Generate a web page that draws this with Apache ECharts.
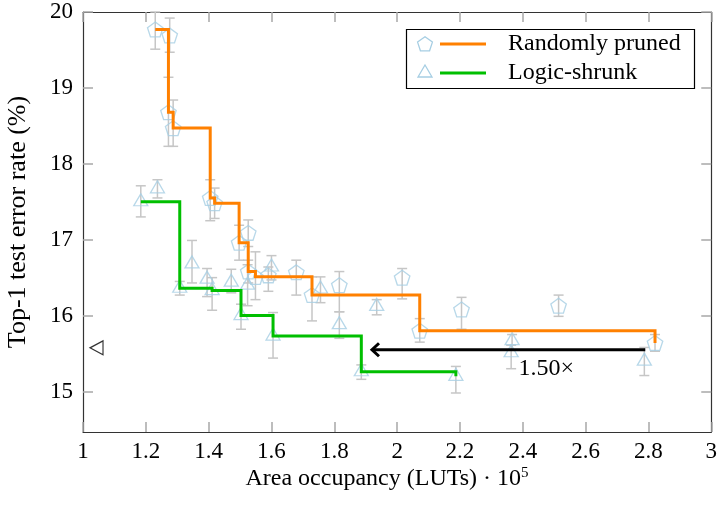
<!DOCTYPE html>
<html>
<head>
<meta charset="utf-8">
<script src="https://cdn.jsdelivr.net/npm/echarts@6/dist/echarts.min.js"></script>
<style>
  html, body { margin: 0; padding: 0; background: #fff; }
  #chart { width: 720px; height: 510px; }
</style>
</head>
<body>
<div id="chart"></div>
<script>
// Randomly pruned networks: area (x10^5 LUTs), mean top-1 error (%), error range
const prunedArea = [1.230, 1.272, 1.276, 1.287, 1.405, 1.419, 1.497, 1.526, 1.526, 1.549, 1.590, 1.679, 1.729, 1.816, 2.016, 2.072, 2.205, 2.514, 2.821];
const prunedErr  = [19.77, 18.68, 19.69, 18.47, 17.55, 17.48, 16.96, 17.09, 16.58, 16.51, 16.53, 16.57, 16.27, 16.40, 16.50, 15.80, 16.08, 16.13, 15.64];
const prunedLow  = [19.51, 18.23, 19.47, 18.23, 17.25, 17.28, 16.73, 16.91, 16.43, 16.21, 16.32, 16.27, 15.93, 16.05, 16.22, 15.65, 15.82, 15.99, 15.53];
const prunedHigh = [20.00, 19.14, 19.92, 18.84, 17.79, 17.68, 17.19, 17.26, 16.73, 16.84, 16.64, 16.73, 16.51, 16.58, 16.62, 15.96, 16.24, 16.27, 15.75];

// Logic-shrunk networks
const shrunkArea = [1.184, 1.237, 1.308, 1.347, 1.395, 1.411, 1.472, 1.503, 1.524, 1.600, 1.605, 1.756, 1.816, 1.886, 1.935, 2.187, 2.363, 2.366, 2.787];
const shrunkErr  = [17.50, 17.67, 16.36, 16.68, 16.48, 16.33, 16.44, 16.00, 16.40, 16.64, 15.73, 16.35, 15.88, 15.26, 16.12, 15.20, 15.51, 15.67, 15.40];
const shrunkLow  = [17.30, 17.55, 16.27, 16.43, 16.25, 16.07, 16.30, 15.82, 16.13, 16.47, 15.44, 16.17, 15.70, 15.16, 16.01, 14.98, 15.30, 15.55, 15.21];
const shrunkHigh = [17.71, 17.79, 16.45, 16.99, 16.62, 16.50, 16.61, 16.15, 16.67, 16.79, 16.04, 16.51, 16.05, 15.35, 16.21, 15.33, 15.61, 15.75, 15.58];

// Reference marker on the left edge
const refPoint = [1.043, 15.575];

// Area-reduction arrow (from, to) and its label
const arrowFromX = 2.79;
const arrowToX = 1.92;
const arrowY = 15.55;
const arrowLabel = '1.50×';
const arrowLabelPos = [2.475, 15.30];

// Axis ticks
const xTicks = [1, 1.2, 1.4, 1.6, 1.8, 2, 2.2, 2.4, 2.6, 2.8, 3];
const yTicks = [15, 16, 17, 18, 19, 20];
const yMin = 14.466;
const yMax = 20;

const seriesNames = ['Randomly pruned', 'Logic-shrunk'];

const FONT = 'Liberation Serif';
const MARK = '#a6cee3';
const BAR = '#c6c6c6';
const ORANGE = '#ff8000';
const GREEN = '#00bf00';
const PENTAGON = 'path://M0,-1 L0.9511,-0.309 L0.5878,0.809 L-0.5878,0.809 L-0.9511,-0.309 Z';
const LEFT_TRI = 'path://M1,0 L0,0.5 L1,1 Z';

// running-minimum staircase: the best error reached so far at each area
function frontier(xs, ys) {
  const idx = xs.map((_, i) => i).sort((a, b) => xs[a] - xs[b]);
  const out = [];
  let best = Infinity;
  idx.forEach(i => {
    if (ys[i] < best) { best = ys[i]; out.push([xs[i], ys[i]]); }
  });
  return out;
}

function zip(xs, ys) { return xs.map((x, i) => [x, ys[i]]); }
function bars(xs, lo, hi) { return xs.map((x, i) => [x, lo[i], hi[i]]); }

// regular pentagon outline for the legend key
function pentagonPoints(cx, cy, r) {
  const pts = [];
  for (let k = 0; k < 5; k++) {
    const a = -Math.PI / 2 + k * 2 * Math.PI / 5;
    pts.push([cx + r * Math.cos(a), cy + r * Math.sin(a)]);
  }
  return pts;
}

function renderErrorBar(params, api) {
  const x = api.value(0);
  const top = api.coord([x, api.value(2)]);
  const bot = api.coord([x, api.value(1)]);
  const w = 5;
  const st = { stroke: BAR, lineWidth: 1.5 };
  return {
    type: 'group',
    children: [
      { type: 'line', shape: { x1: top[0], y1: top[1], x2: bot[0], y2: bot[1] }, style: st },
      { type: 'line', shape: { x1: top[0] - w, y1: top[1], x2: top[0] + w, y2: top[1] }, style: st },
      { type: 'line', shape: { x1: bot[0] - w, y1: bot[1], x2: bot[0] + w, y2: bot[1] }, style: st }
    ]
  };
}

function renderArrow(params, api) {
  const a = api.coord([api.value(0), api.value(2)]);
  const b = api.coord([api.value(1), api.value(2)]);
  const lp = api.coord([arrowLabelPos[0], arrowLabelPos[1]]);
  const st = { stroke: '#000', lineWidth: 3, fill: null };
  return {
    type: 'group',
    children: [
      { type: 'line', shape: { x1: a[0], y1: a[1], x2: b[0] + 1, y2: b[1] }, style: st },
      { type: 'polyline', shape: { points: [[b[0] + 7, b[1] - 6.5], [b[0], b[1]], [b[0] + 7, b[1] + 6.5]] }, style: st },
      { type: 'text', x: lp[0], y: lp[1],
        style: { text: arrowLabel, fontFamily: FONT, fontSize: 24, fill: '#000', align: 'center', verticalAlign: 'middle' } }
    ]
  };
}

const tickStyle = { show: true, inside: true, length: 10, lineStyle: { color: '#a8a8a8', width: 1.5 } };
const lineStyle = { show: true, lineStyle: { color: '#333', width: 1.2 } };

const chart = echarts.init(document.getElementById('chart'), null, { renderer: 'canvas' });

chart.setOption({
  animation: false,
  backgroundColor: '#fff',
  grid: { left: 83, top: 12, width: 633, height: 420, containLabel: false },
  xAxis: [
    {
      type: 'value', min: 1, max: 3, interval: 0.2, position: 'bottom',
      axisLine: lineStyle, axisTick: tickStyle, splitLine: { show: false },
      axisLabel: { color: '#000', fontFamily: FONT, fontSize: 23, margin: 8, showMinLabel: true, showMaxLabel: true }
    },
    {
      type: 'value', min: 1, max: 3, interval: 0.2, position: 'top',
      axisLine: lineStyle, axisTick: tickStyle, splitLine: { show: false }, axisLabel: { show: false }
    }
  ],
  yAxis: [
    {
      type: 'value', min: yMin, max: yMax, position: 'left',
      axisLine: lineStyle, splitLine: { show: false },
      axisTick: Object.assign({}, tickStyle, { customValues: yTicks }),
      axisLabel: { color: '#000', fontFamily: FONT, fontSize: 23, margin: 10, customValues: yTicks }
    },
    {
      type: 'value', min: yMin, max: yMax, position: 'right',
      axisLine: lineStyle, splitLine: { show: false },
      axisTick: Object.assign({}, tickStyle, { customValues: yTicks }),
      axisLabel: { show: false }
    }
  ],
  series: [
    {
      type: 'custom', name: seriesNames[0] + ' error', renderItem: renderErrorBar,
      data: bars(prunedArea, prunedLow, prunedHigh), encode: { x: 0, y: [1, 2] }, silent: true, z: 1
    },
    {
      type: 'custom', name: seriesNames[1] + ' error', renderItem: renderErrorBar,
      data: bars(shrunkArea, shrunkLow, shrunkHigh), encode: { x: 0, y: [1, 2] }, silent: true, z: 1
    },
    {
      type: 'scatter', name: seriesNames[0], data: zip(prunedArea, prunedErr),
      symbol: PENTAGON, symbolSize: [15.5, 14.8],
      itemStyle: { color: 'rgba(0,0,0,0)', borderColor: MARK, borderWidth: 1.3 }, z: 2
    },
    {
      type: 'scatter', name: seriesNames[1], data: zip(shrunkArea, shrunkErr),
      symbol: 'triangle', symbolSize: [14, 12], symbolOffset: [0, -2],
      itemStyle: { color: 'rgba(0,0,0,0)', borderColor: MARK, borderWidth: 1.3 }, z: 2
    },
    {
      type: 'line', name: seriesNames[0] + ' front', data: frontier(prunedArea, prunedErr),
      step: 'end', showSymbol: false, symbol: 'none',
      lineStyle: { color: ORANGE, width: 3, join: 'miter', cap: 'butt' }, z: 3
    },
    {
      type: 'line', name: seriesNames[1] + ' front', data: frontier(shrunkArea, shrunkErr),
      step: 'end', showSymbol: false, symbol: 'none',
      lineStyle: { color: GREEN, width: 3, join: 'miter', cap: 'butt' }, z: 3
    },
    {
      type: 'scatter', name: 'reference', data: [refPoint],
      symbol: LEFT_TRI, symbolSize: [13, 14],
      itemStyle: { color: 'rgba(0,0,0,0)', borderColor: '#000', borderWidth: 1.2 }, z: 3
    },
    {
      type: 'custom', name: 'reduction', renderItem: renderArrow,
      data: [[arrowFromX, arrowToX, arrowY]], encode: { x: [0, 1], y: 2 }, silent: true, z: 4
    }
  ],
  graphic: [
    // axis titles
    {
      type: 'text', x: 387, y: 479,
      style: {
        text: '{m|Area occupancy (LUTs) · 10}{s|5}',
        align: 'center', verticalAlign: 'middle', fill: '#000',
        rich: {
          m: { fontFamily: FONT, fontSize: 24, lineHeight: 26 },
          s: { fontFamily: FONT, fontSize: 15, lineHeight: 15, verticalAlign: 'top' }
        }
      }
    },
    {
      type: 'text', x: 18, y: 222, rotation: Math.PI / 2,
      style: { text: 'Top-1 test error rate (%)', fontFamily: FONT, fontSize: 26, fill: '#000',
        align: 'center', verticalAlign: 'middle' }
    },
    // legend
    { type: 'rect', shape: { x: 406.5, y: 29.5, width: 288, height: 59 }, style: { fill: '#fff', stroke: '#000', lineWidth: 1.2 }, z: 10 },
    { type: 'polygon', shape: { points: pentagonPoints(425, 44.5, 7.8) }, style: { fill: 'none', stroke: MARK, lineWidth: 1.3 }, z: 11 },
    { type: 'line', shape: { x1: 440, y1: 44, x2: 486, y2: 44 }, style: { stroke: ORANGE, lineWidth: 3 }, z: 11 },
    { type: 'text', x: 508, y: 44, style: { text: seriesNames[0], fontFamily: FONT, fontSize: 24, fill: '#000', align: 'left', verticalAlign: 'middle' }, z: 11 },
    { type: 'polygon', shape: { points: [[425, 65], [432, 77], [418, 77]] }, style: { fill: 'none', stroke: MARK, lineWidth: 1.3 }, z: 11 },
    { type: 'line', shape: { x1: 440, y1: 73, x2: 486, y2: 73 }, style: { stroke: GREEN, lineWidth: 3 }, z: 11 },
    { type: 'text', x: 508, y: 73, style: { text: seriesNames[1], fontFamily: FONT, fontSize: 24, fill: '#000', align: 'left', verticalAlign: 'middle' }, z: 11 }
  ]
});
</script>
</body>
</html>
